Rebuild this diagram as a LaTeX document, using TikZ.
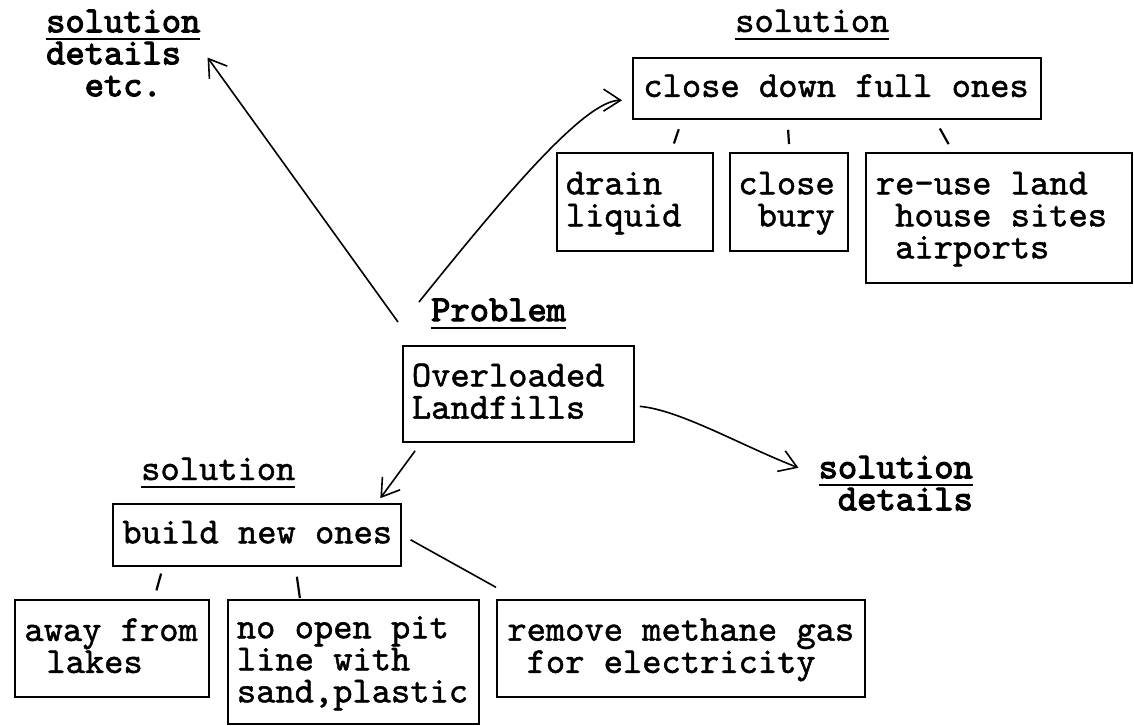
\documentclass[tikz,border=0pt]{standalone}
\usepackage{fontspec}
\usetikzlibrary{arrows.meta,calc}
\newfontfamily\tfreg{lmmono10-regular}[Extension=.otf, FakeBold=1.3]
\newfontfamily\tfbold{lmmono10-regular}[Extension=.otf, FakeBold=3]
\newcommand\mfont{\tfreg\fontsize{36.7}{32}\selectfont}
\newcommand\mbfont{\tfbold\fontsize{36.7}{32}\selectfont}
\newcommand\ulw[1]{\leavevmode\vtop{\hbox{#1}\kern5.5pt\hrule height 2.4pt}}
\newcommand\lines[2]{\makebox[#1][l]{\raisebox{-2pt}[\height][\depth]{\begin{tabular}{@{}l@{}}#2\end{tabular}}}}
\tikzset{
  box/.style={draw, line width=1.8pt, anchor=north west, inner ysep=0pt, font=\mfont},
  lab/.style={inner sep=0pt},
  conn/.style={line width=1.6pt},
  tick/.style={line width=2.2pt},
  arr/.style={-{Straight Barb[length=17pt,width=22pt,line width=1.6pt]}}
}
\begin{document}
\begin{tikzpicture}[x=1pt,y=-1pt]
\useasboundingbox (0,0) rectangle (1134,725);
% labels
\node[lab, anchor=north west, font=\mbfont] (tl) at (46,9.6)
  {\begin{tabular}{@{}l@{}}\ulw{solution}\\details\\\phantom{xx}etc.\end{tabular}};
\node[lab, anchor=base west, font=\mfont] (ts) at (735,32) {\ulw{solution}};
\node[lab, anchor=base west, font=\mbfont] (prob) at (431,321) {\ulw{Problem}};
\node[lab, anchor=base west, font=\mfont] (bs) at (141,480) {\ulw{solution}};
\node[lab, anchor=north east, font=\mbfont] (br) at (973,455.6)
  {\begin{tabular}{@{}r@{}}\ulw{solution}\\details\end{tabular}};
% boxes
\node[box, inner xsep=10.5pt, minimum width=408pt, minimum height=61pt] (cd) at (632,57)
  {\lines{387pt}{close down full ones}};
\node[box, inner xsep=9pt, minimum width=156pt, minimum height=98pt] (drain) at (556,152)
  {\lines{138pt}{drain\\liquid}};
\node[box, inner xsep=8.5pt, minimum width=118pt, minimum height=98pt] (bury) at (729,152)
  {\lines{101pt}{close\\\phantom{x}bury}};
\node[box, inner xsep=10pt, minimum width=266pt, minimum height=130pt] (reuse) at (865,152)
  {\lines{246pt}{re-use land\\\phantom{x}house sites\\\phantom{x}airports}};
\node[box, inner xsep=9pt, minimum width=231pt, minimum height=96pt] (over) at (402,345)
  {\lines{213pt}{Overloaded\\Landfills}};
\node[box, inner xsep=9.5pt, minimum width=288pt, minimum height=62pt] (build) at (112,503)
  {\lines{269pt}{build new ones}};
\node[box, inner xsep=9.5pt, minimum width=194pt, minimum height=97pt] (away) at (14,599)
  {\lines{175pt}{away from\\\hspace*{22pt}lakes}};
\node[box, inner xsep=9pt, minimum width=251pt, minimum height=124pt] (noopen) at (227,599)
  {\lines{233pt}{no open pit\\line with\\sand,plastic}};
\node[box, inner xsep=10.5pt, minimum width=368pt, minimum height=97pt] (remove) at (496,599)
  {\lines{347pt}{remove methane gas\\\phantom{x}for electricity}};
% free ends
\coordinate (p1) at (398,322);
\coordinate (p2) at (419,302);
% arrows
\draw[conn, arr, shorten >=12pt] (p1) -- ([yshift=10pt]tl.east);
\draw[conn, arr, shorten >=10pt] (p2) .. controls (505,195) and (585,100) .. ([yshift=-12pt]cd.west);
\draw[conn, arr, shorten <=5pt] ([yshift=-12pt]over.east) .. controls (680,410) and (740,445) .. ([xshift=-20pt,yshift=20pt]br.west);
\draw[conn, arr, shorten <=10pt, shorten >=6pt] ([xshift=19pt]over.south west) -- ([xshift=-25pt]build.north east);
% ticks
\draw[tick, shorten <=10pt, shorten >=9pt] ([xshift=50pt]cd.south west) -- ([xshift=115pt]drain.north west);
\draw[tick, shorten <=10pt, shorten >=8pt] ([xshift=155.5pt]cd.south west) -- ([xshift=60.5pt]bury.north west);
\draw[tick, shorten <=10pt, shorten >=9pt] ([xshift=303pt]cd.south west) -- ([xshift=88pt]reuse.north west);
\draw[tick, shorten <=7pt, shorten >=9pt] ([xshift=51pt]build.south west) -- ([xshift=140pt]away.north west);
\draw[tick, shorten <=10pt, shorten >=1pt] ([xshift=183.5pt]build.south west) -- ([xshift=73pt]noopen.north west);
\draw[conn, shorten <=10pt, shorten >=24pt] (build.east) -- ([xshift=21pt]remove.north west);
\end{tikzpicture}
\end{document}
